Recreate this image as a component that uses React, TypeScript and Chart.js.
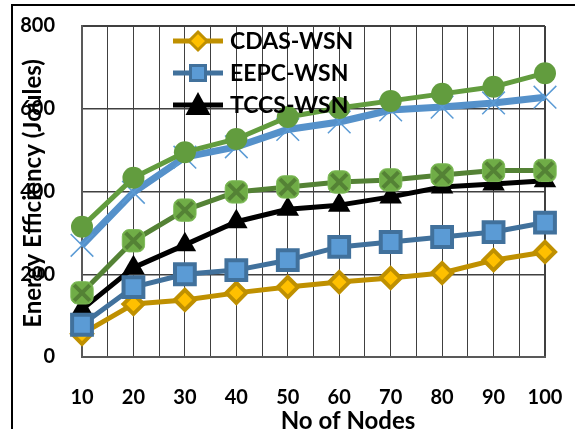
import React, { useEffect, useRef } from 'react';
import { Chart, registerables } from 'chart.js';

Chart.register(...registerables);

const nodes = [10, 20, 30, 40, 50, 60, 70, 80, 90, 100];
const cdasWsn = [56, 128, 138, 155, 169, 181, 191, 203, 234, 254];
const eepcWsn = [78, 169, 200, 210, 234, 266, 278, 290, 302, 325];
const tccsWsn = [115, 216, 271, 327, 357, 367, 387, 411, 418, 426];
const greenSquareSeries = [155, 281, 355, 399, 411, 423, 428, 440, 451, 451];
const blueCrossSeries = [270, 398, 483, 508, 550, 568, 597, 604, 614, 628];
const greenCircleSeries = [315, 433, 495, 527, 580, 602, 619, 636, 653, 686];

const legendNames = ['CDAS-WSN', 'EEPC-WSN', 'TCCS-WSN'];
const xTitle = 'No of Nodes';
const yTitle = 'Energy Efficiency (Joules)';
const yMin = 0;
const yMax = 800;
const yStep = 200;
const xMin = 10;
const xMax = 100;

const FONT = 'Lato';
const WEIGHT = 'bold';

const pts = (arr: number[]) => nodes.map((n, i) => ({ x: n, y: arr[i] }));

const zeroPad = (scale: any) => {
  scale.paddingTop = 0;
  scale.paddingBottom = 0;
  scale.paddingLeft = 0;
  scale.paddingRight = 0;
};

function drawLegendMarker(ctx: CanvasRenderingContext2D, kind: string, x: number, y: number) {
  ctx.save();
  if (kind === 'diamond') {
    const r = 9;
    ctx.beginPath();
    ctx.moveTo(x, y - r);
    ctx.lineTo(x + r, y);
    ctx.lineTo(x, y + r);
    ctx.lineTo(x - r, y);
    ctx.closePath();
    ctx.fillStyle = '#FFC000';
    ctx.fill();
    ctx.lineWidth = 3;
    ctx.strokeStyle = '#BF9000';
    ctx.stroke();
  } else if (kind === 'square') {
    const s = 7.5;
    ctx.fillStyle = '#5B9BD5';
    ctx.fillRect(x - s, y - s, 2 * s, 2 * s);
    ctx.lineWidth = 3;
    ctx.strokeStyle = '#41719C';
    ctx.strokeRect(x - s, y - s, 2 * s, 2 * s);
  } else {
    ctx.beginPath();
    ctx.moveTo(x, y - 13);
    ctx.lineTo(x + 12.5, y + 10);
    ctx.lineTo(x - 12.5, y + 10);
    ctx.closePath();
    ctx.fillStyle = '#000';
    ctx.fill();
  }
  ctx.restore();
}

const overlayPlugin = {
  id: 'overlay',
  afterDraw(chart: any) {
    const ctx: CanvasRenderingContext2D = chart.ctx;
    const area = chart.chartArea;
    ctx.save();
    ctx.strokeStyle = '#000';
    ctx.lineWidth = 2;
    ctx.beginPath();
    ctx.moveTo(12, 429);
    ctx.lineTo(12, 5);
    ctx.lineTo(575, 5);
    ctx.stroke();

    ctx.fillStyle = '#000';
    ctx.font = `${WEIGHT} 24px ${FONT}`;
    ctx.textAlign = 'center';
    ctx.textBaseline = 'middle';
    ctx.fillText(xTitle, 348, 421);
    ctx.save();
    ctx.translate(33, (area.top + area.bottom) / 2 + 2);
    ctx.rotate(-Math.PI / 2);
    ctx.fillText(yTitle, 0, 0);
    ctx.restore();

    const colors = ['#BF9000', '#41719C', '#000000'];
    const kinds = ['diamond', 'square', 'triangle'];
    const rows = [41, 73, 105];
    legendNames.forEach((name, i) => {
      const y = rows[i];
      ctx.strokeStyle = colors[i];
      ctx.lineWidth = 5;
      ctx.beginPath();
      ctx.moveTo(173, y);
      ctx.lineTo(223, y);
      ctx.stroke();
      drawLegendMarker(ctx, kinds[i], 198, y);
      ctx.fillStyle = '#000';
      ctx.font = `${WEIGHT} 23px ${FONT}`;
      ctx.textAlign = 'left';
      ctx.textBaseline = 'middle';
      ctx.fillText(name, 230, y + 1);
    });
    ctx.restore();
  },
};

export default function App() {
  const canvasRef = useRef<HTMLCanvasElement | null>(null);

  useEffect(() => {
    if (!canvasRef.current) return;
    const chart = new Chart(canvasRef.current, {
      type: 'line',
      data: {
        datasets: [
          {
            label: 'Series 6',
            data: pts(greenCircleSeries),
            borderColor: '#629C3E',
            backgroundColor: '#629C3E',
            borderWidth: 5,
            pointStyle: 'circle',
            pointRadius: 11,
            pointBackgroundColor: '#629C3E',
            pointBorderColor: '#629C3E',
            pointBorderWidth: 0,
            order: 1,
            clip: false,
          },
          {
            label: 'Series 4 marks',
            data: pts(greenSquareSeries),
            showLine: false,
            pointStyle: 'crossRot',
            pointRadius: 11,
            pointBorderColor: '#548235',
            pointBorderWidth: 4,
            order: 2,
            clip: false,
          },
          {
            label: 'Series 4',
            data: pts(greenSquareSeries),
            borderColor: '#548235',
            borderWidth: 5,
            pointStyle: 'rectRounded',
            pointRadius: 13,
            pointBackgroundColor: '#70AD47',
            pointBorderColor: '#7DBA58',
            pointBorderWidth: 1,
            order: 3,
            clip: false,
          },
          {
            label: 'Series 5',
            data: pts(blueCrossSeries),
            borderColor: '#5591CA',
            borderWidth: 7,
            pointStyle: 'crossRot',
            pointRadius: 16,
            pointBorderColor: '#5B9BD5',
            pointBorderWidth: 1.5,
            order: 4,
            clip: false,
          },
          {
            label: legendNames[1],
            data: pts(eepcWsn),
            borderColor: '#41719C',
            borderWidth: 5,
            pointStyle: 'rect',
            pointRadius: 14,
            pointBackgroundColor: '#5B9BD5',
            pointBorderColor: '#41719C',
            pointBorderWidth: 4,
            order: 5,
            clip: false,
          },
          {
            label: legendNames[0],
            data: pts(cdasWsn),
            borderColor: '#BF9000',
            borderWidth: 5,
            pointStyle: 'rectRot',
            pointRadius: 10,
            pointBackgroundColor: '#FFC000',
            pointBorderColor: '#BF9000',
            pointBorderWidth: 4,
            order: 6,
            clip: false,
          },
          {
            label: legendNames[2],
            data: pts(tccsWsn),
            borderColor: '#000000',
            borderWidth: 5,
            pointStyle: 'triangle',
            pointRadius: 13,
            pointBackgroundColor: '#000000',
            pointBorderColor: '#000000',
            pointBorderWidth: 0,
            order: 7,
            clip: false,
          },
        ] as any,
      },
      options: {
        animation: false,
        responsive: false,
        maintainAspectRatio: false,
        layout: { autoPadding: false, padding: { left: 18, top: 26, right: 30, bottom: 0 } },
        elements: { line: { tension: 0, borderJoinStyle: 'round' } },
        plugins: { legend: { display: false }, tooltip: { enabled: false } },
        scales: {
          x: {
            type: 'linear',
            min: xMin,
            max: xMax,
            afterFit: (scale: any) => {
              scale.height = 72;
              zeroPad(scale);
            },
            ticks: {
              stepSize: 5,
              autoSkip: false,
              maxRotation: 0,
              padding: 29,
              color: '#000',
              font: { family: FONT, weight: WEIGHT, size: 20 },
              callback: (v: any) => (Number(v) % 10 === 0 ? String(v) : ''),
            },
            grid: {
              color: '#404040',
              lineWidth: (c: any) => (c.tick && c.tick.value === xMax ? 2 : 1),
              drawTicks: false,
            },
            border: { color: '#595959', width: 2 },
          },
          y: {
            min: yMin,
            max: yMax,
            afterFit: (scale: any) => {
              scale.width = 64;
              zeroPad(scale);
            },
            ticks: {
              stepSize: yStep,
              padding: 27,
              color: '#000',
              font: { family: FONT, weight: WEIGHT, size: 20 },
            },
            grid: {
              color: '#404040',
              lineWidth: (c: any) => (c.tick && c.tick.value === yMax ? 2 : 1.5),
              drawTicks: false,
            },
            border: { color: '#595959', width: 2 },
          },
        },
      } as any,
      plugins: [overlayPlugin],
    });
    return () => chart.destroy();
  }, []);

  return (
    <div style={{ position: 'fixed', left: 0, top: 0, width: 575, height: 429, background: '#fff' }}>
      <canvas ref={canvasRef} width={575} height={429} style={{ display: 'block' }} />
    </div>
  );
}
